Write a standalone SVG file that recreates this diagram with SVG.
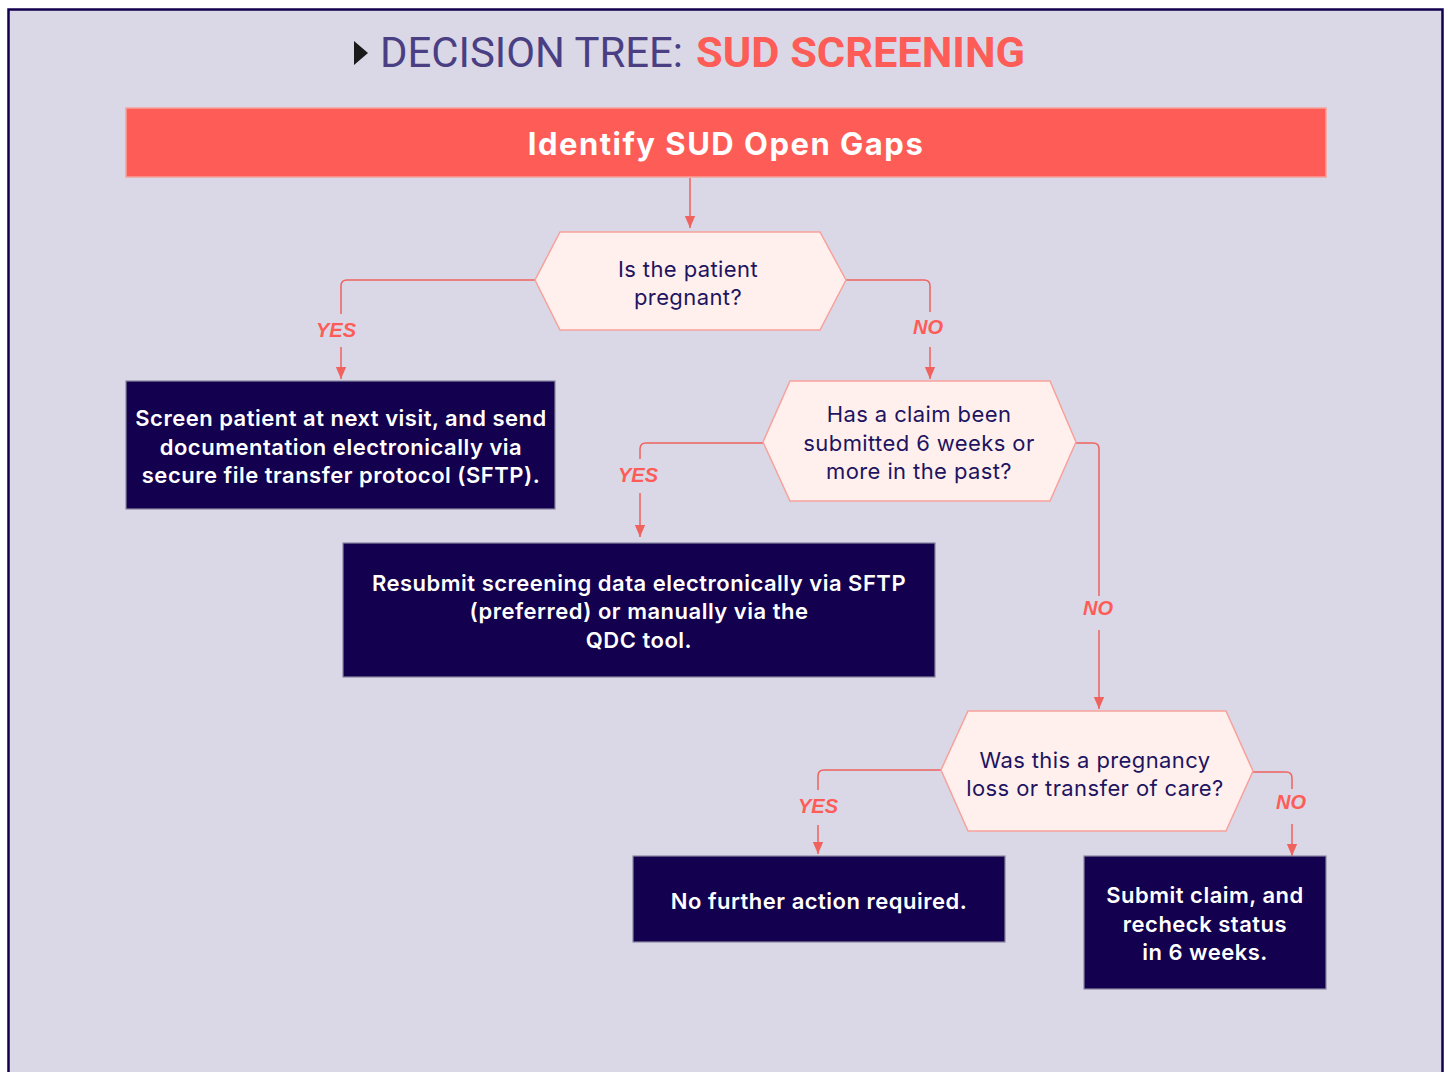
<svg xmlns="http://www.w3.org/2000/svg" width="1448" height="1072" viewBox="0 0 1448 1072">
<defs>
<style>
.hex{fill:#fff0ee;stroke:#f7a19b;stroke-width:1.5}
.box{fill:#13004f;stroke:#8a87a0;stroke-width:1.2}
.ht{font-family:"Inter","Liberation Sans",sans-serif;font-size:22px;letter-spacing:0.4px;fill:#1e1460;text-anchor:middle}
.bt{font-family:"Inter","Liberation Sans",sans-serif;font-size:22px;letter-spacing:0.5px;font-weight:600;fill:#ffffff;text-anchor:middle}
.lbl{font-family:"Liberation Sans",Arial,sans-serif;font-size:20px;font-weight:bold;font-style:italic;fill:#fe5c57;text-anchor:middle}
.ln{fill:none;stroke:#f0625e;stroke-width:1.5}
</style>
<marker id="arr" markerWidth="12" markerHeight="14" refX="14" refY="6" orient="auto" markerUnits="userSpaceOnUse" viewBox="0 0 14 12">
<path d="M0,0 L14,6 L0,12 Z" fill="#f0625e"/>
</marker>
</defs>
<rect x="0" y="0" width="1448" height="1072" fill="#ffffff"/>
<rect x="8.5" y="9.5" width="1434" height="1070" fill="#dad8e6" stroke="#12004f" stroke-width="2.5"/>

<g id="title">
<path d="M354,41 L368,53 L354,65 Z" fill="#1a1a1a"/>
<text x="380" y="67" font-family="Roboto,'Liberation Sans',sans-serif" font-size="42" fill="#4a3f82" textLength="303" lengthAdjust="spacingAndGlyphs">DECISION TREE:</text>
<text x="696" y="67" font-family="Roboto,'Liberation Sans',sans-serif" font-size="42" font-weight="bold" fill="#fe5c57" textLength="329" lengthAdjust="spacingAndGlyphs">SUD SCREENING</text>
</g>

<g id="start">
<rect x="126" y="108" width="1200" height="69" fill="#fe5c57" stroke="#f7a19b" stroke-width="1.5"/>
<text x="726" y="155" font-family="Inter,'Liberation Sans',sans-serif" font-size="31" font-weight="bold" fill="#ffffff" text-anchor="middle" letter-spacing="1.5">Identify SUD Open Gaps</text>
</g>

<g id="connectors">
<path class="ln" d="M690,178 V228" marker-end="url(#arr)"/>
<path class="ln" d="M535,280 H347 Q341,280 341,286 V314"/>
<path class="ln" d="M341,347 V379" marker-end="url(#arr)"/>
<path class="ln" d="M846,280 H924 Q930,280 930,286 V312"/>
<path class="ln" d="M930,347 V379" marker-end="url(#arr)"/>
<path class="ln" d="M763,443 H646 Q640,443 640,449 V459"/>
<path class="ln" d="M640,493 V537" marker-end="url(#arr)"/>
<path class="ln" d="M1076,443 H1093 Q1099,443 1099,449 V596"/>
<path class="ln" d="M1099,630 V709" marker-end="url(#arr)"/>
<path class="ln" d="M941,770 H824 Q818,770 818,776 V790"/>
<path class="ln" d="M818,825 V854" marker-end="url(#arr)"/>
<path class="ln" d="M1253,772 H1286 Q1292,772 1292,778 V789"/>
<path class="ln" d="M1292,824 V856" marker-end="url(#arr)"/>
<text class="lbl" x="336" y="337">YES</text>
<text class="lbl" x="928" y="334">NO</text>
<text class="lbl" x="638" y="482">YES</text>
<text class="lbl" x="1098" y="615">NO</text>
<text class="lbl" x="818" y="813">YES</text>
<text class="lbl" x="1291" y="809">NO</text>
</g>

<g id="q1">
<polygon class="hex" points="560,232 820,232 846,280 820,330 560,330 535,280"/>
<text class="ht" x="688" y="277">Is the patient</text>
<text class="ht" x="688" y="305">pregnant?</text>
</g>

<g id="a1">
<rect class="box" x="126" y="381" width="429" height="128"/>
<text class="bt" x="341" y="426">Screen patient at next visit, and send</text>
<text class="bt" x="341" y="455">documentation electronically via</text>
<text class="bt" x="341" y="483">secure file transfer protocol (SFTP).</text>
</g>

<g id="q2">
<polygon class="hex" points="790,381 1050,381 1076,442 1050,501 790,501 763,442"/>
<text class="ht" x="919" y="422">Has a claim been</text>
<text class="ht" x="919" y="451">submitted 6 weeks or</text>
<text class="ht" x="919" y="479">more in the past?</text>
</g>

<g id="a2">
<rect class="box" x="343" y="543" width="592" height="134"/>
<text class="bt" x="639" y="591">Resubmit screening data electronically via SFTP</text>
<text class="bt" x="639" y="619">(preferred) or manually via the</text>
<text class="bt" x="639" y="648">QDC tool.</text>
</g>

<g id="q3">
<polygon class="hex" points="968,711 1226,711 1253,771 1226,831 968,831 941,770"/>
<text class="ht" x="1095" y="768">Was this a pregnancy</text>
<text class="ht" x="1095" y="796">loss or transfer of care?</text>
</g>

<g id="a3">
<rect class="box" x="633" y="856" width="372" height="86"/>
<text class="bt" x="819" y="909">No further action required.</text>
</g>

<g id="a4">
<rect class="box" x="1084" y="856" width="242" height="133"/>
<text class="bt" x="1205" y="903">Submit claim, and</text>
<text class="bt" x="1205" y="932">recheck status</text>
<text class="bt" x="1205" y="960">in 6 weeks.</text>
</g>
</svg>
